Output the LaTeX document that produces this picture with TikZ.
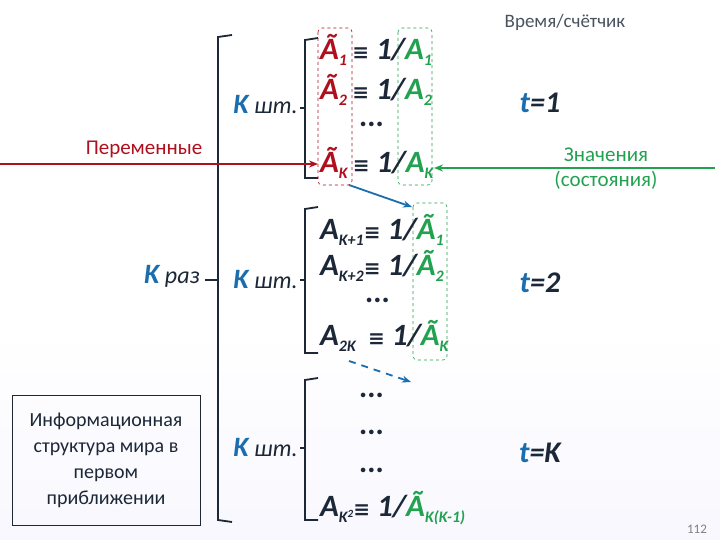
\documentclass[tikz,border=0pt]{standalone}
\usepackage{fontspec}
\setmainfont{Carlito}
\newfontfamily\djvfont{DejaVu Sans}
\usetikzlibrary{arrows.meta}
\definecolor{navy}{HTML}{1C2838}
\definecolor{rd}{HTML}{B0101E}
\definecolor{gr}{HTML}{22A250}
\definecolor{bl}{HTML}{1A6EB0}
\newcommand{\sbs}[1]{\raisebox{-0.35ex}{\fontsize{16}{16}\selectfont #1}}
\newcommand{\eqv}{{\djvfont\bfseries\upshape\fontsize{20}{20}\selectfont ≡}}
\tikzset{
  brk/.style={draw=navy,line width=1.8pt},
  frm/.style={font=\fontsize{31}{31}\selectfont\bfseries\itshape,text=navy,inner sep=0pt,anchor=west},
  kst/.style={font=\fontsize{24}{24}\selectfont\itshape,text=navy,inner sep=0pt,anchor=east},
  tt/.style={font=\fontsize{30}{30}\selectfont\bfseries\itshape,text=navy,inner sep=0pt},
  lab/.style={font=\fontsize{21}{25}\selectfont,inner sep=0pt,align=center},
  dbox/.style={dashed,rounded corners=4pt,line width=0.6pt},
}
\begin{document}
\begin{tikzpicture}[x=1pt,y=-1pt]
\useasboundingbox (0,0) rectangle (720,540);
\fill[white] (0,0) rectangle (720,330);
\shade[top color=white,bottom color=black!9!blue!3!white] (0,330) rectangle (720,540);
% big bracket
\draw[brk] (232,35) -- (218,37) -- (218,520) -- (232,522);
\draw[brk] (205,280) -- (218,280);
% sub brackets
\draw[brk] (318,38) -- (305,40) -- (305,178) -- (318,178);
\draw[brk] (300,108) -- (305,108);
\draw[brk] (318,207) -- (305,209) -- (305,353) -- (318,353);
\draw[brk] (300,280) -- (305,280);
\draw[brk] (318,378) -- (305,380) -- (305,520) -- (318,520);
\draw[brk] (300,448) -- (305,448);
% labels left
\node[lab,text=rd] (per) at (144,149) {Переменные};
\node[kst] (kraz) at (200,276) {{\bfseries\fontsize{28}{28}\selectfont\color{bl}K} раз};
\node[draw=navy,line width=1pt,minimum width=188pt,minimum height=130pt,lab,text=navy,font=\fontsize{20}{26}\selectfont] (info) at (106,460) {Информационная\\структура мира в\\первом\\приближении};
\node[kst] (k1) at (298,105) {{\bfseries\fontsize{28}{28}\selectfont\color{bl}K} шт.};
\node[kst] (k2) at (298,280) {{\bfseries\fontsize{28}{28}\selectfont\color{bl}K} шт.};
\node[kst] (k3) at (298,448) {{\bfseries\fontsize{28}{28}\selectfont\color{bl}K} шт.};
% dashed boxes
\draw[dbox,draw=rd] (318,28) rectangle (352,185);
\draw[dbox,draw=gr] (398,28) rectangle (432,185);
\draw[dbox,draw=gr] (413,203) rectangle (447,360);
% group 1
\node[frm] (a1) at (320,50) {{\color{rd}Ã\sbs{1}}\,\eqv{} 1/{\color{gr}A\sbs{1}}};
\node[frm] (a2) at (320,90) {{\color{rd}Ã\sbs{2}}\,\eqv{} 1/{\color{gr}A\sbs{2}}};
\node[frm,anchor=center] (d1) at (372,124) {...};
\node[frm] (ak) at (320,163) {{\color{rd}Ã\sbs{K}}\,\eqv{} 1/{\color{gr}A\sbs{K}}};
% group 2
\node[frm] (b1) at (320,230) {A\sbs{K+1}\eqv{} 1/{\color{gr}Ã\sbs{1}}};
\node[frm] (b2) at (320,266) {A\sbs{K+2}\eqv{} 1/{\color{gr}Ã\sbs{2}}};
\node[frm,anchor=center] (d2) at (378,300) {...};
\node[frm] (bk) at (320,336) {A\sbs{2K}\, \eqv{} 1/{\color{gr}Ã\sbs{K}}};
% group 3
\node[frm,anchor=center] (d3) at (372,395) {...};
\node[frm,anchor=center] (d4) at (372,432) {...};
\node[frm,anchor=center] (d5) at (372,470) {...};
\node[frm] (c1) at (320,508) {A\sbs{K\raisebox{0.6ex}{\fontsize{11}{11}\selectfont 2}}\eqv{} 1/{\color{gr}Ã\sbs{K(K-1)}}};
% right
\node[font=\fontsize{19}{22}\selectfont,text=navy!80] (vr) at (565,22) {Время/счётчик};
\node[tt] (t1) at (540,103) {{\color{bl}t}=1};
\node[tt] (t2) at (540,283) {{\color{bl}t}=2};
\node[tt] (t3) at (540,453) {{\color{bl}t}=K};
\node[lab,text=gr] (zn) at (606,169) {Значения\\(состояния)};
\coordinate (gs) at (715,168);
\coordinate (ge) at (434,168);
\draw[gr,line width=1.6pt,-{Stealth[length=9pt,width=7pt]}] (gs) -- (ge);
\coordinate (rs) at (0,164);
\coordinate (re) at (318,164);
\draw[rd,line width=1.6pt,-{Stealth[length=9pt,width=7pt]}] (rs) -- (re);
\coordinate (bs) at (349,185);
\coordinate (be) at (412,207);
\draw[bl,line width=1.8pt,-{Stealth[length=9pt,width=7pt]}] (bs) -- (be);
\coordinate (cs) at (349,361);
\coordinate (ce) at (411,382);
\draw[bl,line width=1.8pt,dash pattern=on 7pt off 6pt,-{Stealth[length=9pt,width=7pt]}] (cs) -- (ce);
\node[font=\fontsize{13}{13}\selectfont,text=gray] (pg) at (697,529) {112};
\end{tikzpicture}
\end{document}
